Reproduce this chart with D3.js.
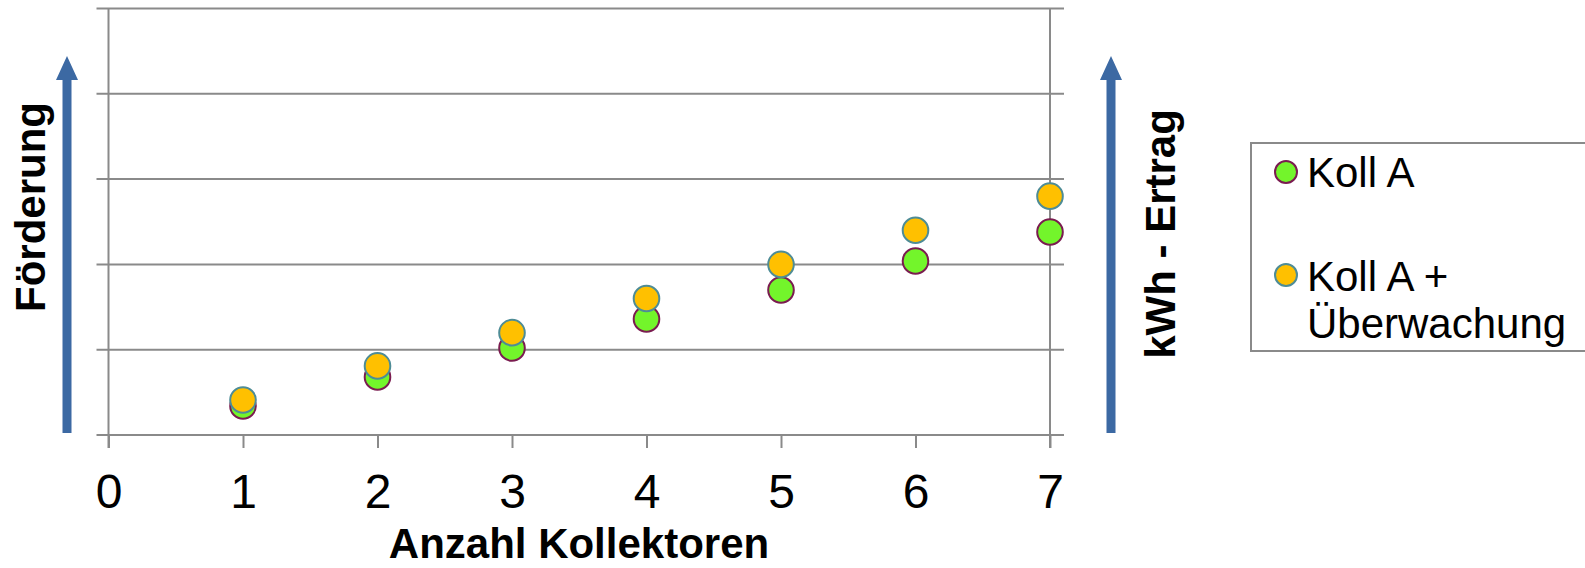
<!DOCTYPE html>
<html>
<head>
<meta charset="utf-8">
<script src="https://cdn.jsdelivr.net/npm/d3@7"></script>
<style>
  html, body { margin: 0; padding: 0; background: #fff; }
  svg { display: block; font-family: Arial, "Liberation Sans", sans-serif; }
</style>
</head>
<body>
<svg id="chart" width="1585" height="568"></svg>
<script>
// Number of collectors on the x axis
const collectors = [1, 2, 3, 4, 5, 6, 7];
// Yield per configuration (relative units, no scale shown)
const kollA = [0.34, 0.68, 1.02, 1.36, 1.70, 2.04, 2.38];
const kollAMonitoring = [0.41, 0.81, 1.20, 1.60, 2.00, 2.40, 2.80];
const seriesNames = ["Koll A", ["Koll A +", "Überwachung"]];
const xTicks = [0, 1, 2, 3, 4, 5, 6, 7];
const yGrid = [0, 1, 2, 3, 4, 5];

const svg = d3.select("#chart");
const gridColor = "#8a8a8a";
const arrowColor = "#3c69a3";

const x = d3.scaleLinear().domain([0, 7]).range([108.5, 1050]);
const y = d3.scaleLinear().domain([0, 5]).range([435, 8.5]);

// Horizontal gridlines (also forming the left tick stubs)
svg.append("g").selectAll("line").data(yGrid).join("line")
  .attr("x1", x(0) - 12).attr("x2", x(7) + 14)
  .attr("y1", d => y(d)).attr("y2", d => y(d))
  .attr("stroke", gridColor).attr("stroke-width", 2);

// Vertical boundary lines at x = 0 and x = 7
svg.append("g").selectAll("line").data([0, 7]).join("line")
  .attr("x1", d => x(d)).attr("x2", d => x(d))
  .attr("y1", y(5)).attr("y2", y(0) + 13)
  .attr("stroke", gridColor).attr("stroke-width", 2);

// X axis with ticks below the baseline
const xAxis = d3.axisBottom(x).tickValues(xTicks).tickSize(13).tickPadding(0)
  .tickFormat(d3.format("d"));
const gx = svg.append("g").attr("transform", `translate(0,${y(0)})`).call(xAxis);
gx.select(".domain").remove();
gx.selectAll(".tick line").attr("stroke", gridColor).attr("stroke-width", 2);
gx.selectAll(".tick text")
  .attr("y", 73).attr("dy", 0)
  .attr("fill", "#000")
  .style("font-size", "48px")
  .style("font-family", "Arial, 'Liberation Sans', sans-serif");

// Axis title
svg.append("text")
  .attr("x", 579).attr("y", 558)
  .attr("text-anchor", "middle")
  .style("font-size", "42px").style("font-weight", "bold")
  .text("Anzahl Kollektoren");

// Vertical arrows with rotated labels
function arrow(cx, yBottom, yTip) {
  const shaft = 9, headW = 22, headH = 24;
  svg.append("path")
    .attr("d", `M${cx - shaft / 2},${yBottom} L${cx - shaft / 2},${yTip + headH} L${cx - headW / 2},${yTip + headH}
                L${cx},${yTip} L${cx + headW / 2},${yTip + headH} L${cx + shaft / 2},${yTip + headH}
                L${cx + shaft / 2},${yBottom} Z`)
    .attr("fill", arrowColor);
}
arrow(67, 433, 56);
arrow(1111, 433, 56);

svg.append("text")
  .attr("transform", "translate(45,207) rotate(-90)")
  .attr("text-anchor", "middle")
  .style("font-size", "42px").style("font-weight", "bold")
  .text("Förderung");

svg.append("text")
  .attr("transform", "translate(1175,234) rotate(-90)")
  .attr("text-anchor", "middle")
  .style("font-size", "42px").style("font-weight", "bold")
  .text("kWh - Ertrag");

// Data points
const styles = [
  { fill: "#73f52b", stroke: "#7a1c50" },
  { fill: "#ffc000", stroke: "#4e8c96" }
];
[kollA, kollAMonitoring].forEach((vals, i) => {
  svg.append("g").selectAll("circle").data(vals).join("circle")
    .attr("cx", (d, j) => x(collectors[j]))
    .attr("cy", d => y(d))
    .attr("r", 12.8)
    .attr("fill", styles[i].fill)
    .attr("stroke", styles[i].stroke)
    .attr("stroke-width", 2);
});

// Legend
const lg = svg.append("g");
lg.append("rect")
  .attr("x", 1251).attr("y", 143).attr("width", 400).attr("height", 208)
  .attr("fill", "#fff").attr("stroke", gridColor).attr("stroke-width", 2);
const legendRows = [{ cy: 172, base: 187 }, { cy: 275, base: 291 }];
legendRows.forEach((r, i) => {
  lg.append("circle")
    .attr("cx", 1286).attr("cy", r.cy).attr("r", 11)
    .attr("fill", styles[i].fill).attr("stroke", styles[i].stroke).attr("stroke-width", 2);
  const lines = [].concat(seriesNames[i]);
  const t = lg.append("text").attr("x", 1307).attr("y", r.base)
    .style("font-size", "42px");
  lines.forEach((s, k) => {
    t.append("tspan").attr("x", 1307).attr("dy", k === 0 ? 0 : 47).text(s);
  });
});
</script>
</body>
</html>
